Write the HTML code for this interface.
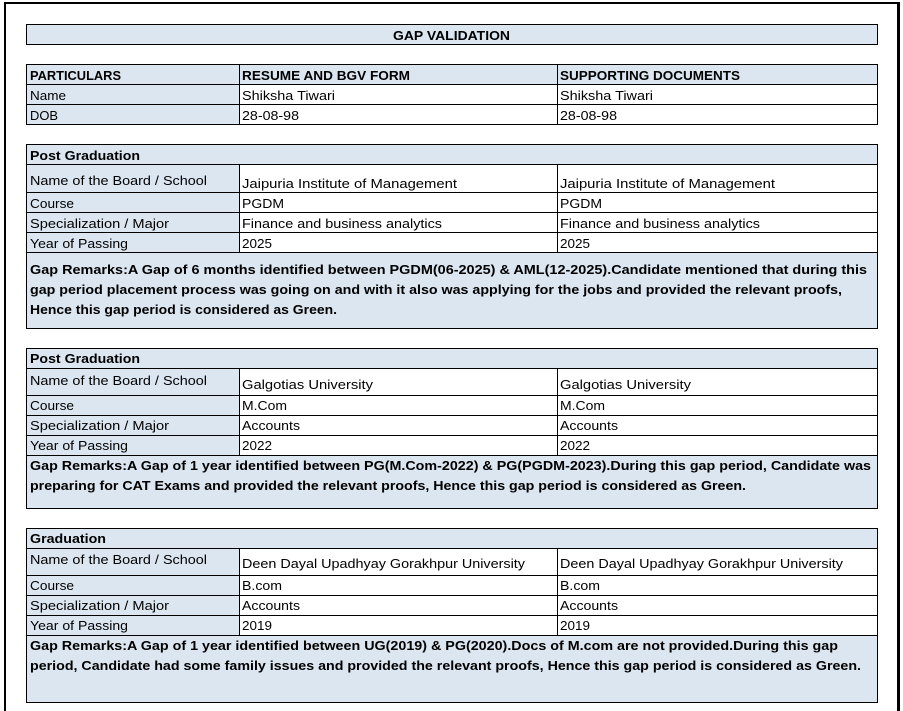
<!DOCTYPE html>
<html>
<head>
<meta charset="utf-8">
<style>
html,body{margin:0;padding:0;background:#fff;}
svg{display:block;}
text{font-family:"Liberation Sans",Arial,sans-serif;font-size:13px;fill:#000;}
.b{font-weight:bold;}
</style>
</head>
<body>
<svg width="903" height="711" viewBox="0 0 903 711" xmlns="http://www.w3.org/2000/svg">
<rect x="0" y="0" width="903" height="711" fill="#fff"/>
<!-- outer frame -->
<rect x="4" y="2" width="2" height="709" fill="#000"/>
<rect x="4" y="2" width="896" height="2" fill="#000"/>
<rect x="897" y="2" width="3" height="709" fill="#000"/>

<!-- Title -->
<rect x="26.5" y="24.5" width="851" height="20" fill="#dce6f1" stroke="#000" stroke-width="1"/>
<text class="b" x="393" y="40" textLength="117" lengthAdjust="spacingAndGlyphs">GAP VALIDATION</text>

<!-- Table 1 -->
<g>
<rect x="26" y="64" width="852" height="20" fill="#dce6f1"/>
<rect x="26" y="84" width="213" height="40" fill="#dce6f1"/>
<g stroke="#000" stroke-width="1">
<line x1="26" y1="64.5" x2="878" y2="64.5"/>
<line x1="26" y1="84.5" x2="878" y2="84.5"/>
<line x1="26" y1="104.5" x2="878" y2="104.5"/>
<line x1="26" y1="124.5" x2="878" y2="124.5"/>
<line x1="26.5" y1="64" x2="26.5" y2="125"/>
<line x1="239.5" y1="64" x2="239.5" y2="125"/>
<line x1="557.5" y1="64" x2="557.5" y2="125"/>
<line x1="877.5" y1="64" x2="877.5" y2="125"/>
</g>
<text class="b" x="30" y="80" textLength="91" lengthAdjust="spacingAndGlyphs">PARTICULARS</text>
<text class="b" x="242" y="80" textLength="168" lengthAdjust="spacingAndGlyphs">RESUME AND BGV FORM</text>
<text class="b" x="560" y="80" textLength="180" lengthAdjust="spacingAndGlyphs">SUPPORTING DOCUMENTS</text>
<text x="30" y="100" textLength="36" lengthAdjust="spacingAndGlyphs">Name</text>
<text x="242" y="100" textLength="93" lengthAdjust="spacingAndGlyphs">Shiksha Tiwari</text>
<text x="560" y="100" textLength="93" lengthAdjust="spacingAndGlyphs">Shiksha Tiwari</text>
<text x="30" y="120" textLength="28" lengthAdjust="spacingAndGlyphs">DOB</text>
<text x="242" y="120" textLength="57" lengthAdjust="spacingAndGlyphs">28-08-98</text>
<text x="560" y="120" textLength="57" lengthAdjust="spacingAndGlyphs">28-08-98</text>
</g>

<!-- Table 2 -->
<g>
<rect x="26" y="144" width="852" height="20" fill="#dce6f1"/>
<rect x="26" y="164" width="213" height="88" fill="#dce6f1"/>
<rect x="26" y="252" width="852" height="76" fill="#dce6f1"/>
<g stroke="#000" stroke-width="1">
<line x1="26" y1="144.5" x2="878" y2="144.5"/>
<line x1="26" y1="164.5" x2="878" y2="164.5"/>
<line x1="26" y1="192.5" x2="878" y2="192.5"/>
<line x1="26" y1="212.5" x2="878" y2="212.5"/>
<line x1="26" y1="232.5" x2="878" y2="232.5"/>
<line x1="26" y1="252.5" x2="878" y2="252.5"/>
<line x1="26" y1="328.5" x2="878" y2="328.5"/>
<line x1="26.5" y1="144" x2="26.5" y2="329"/>
<line x1="877.5" y1="144" x2="877.5" y2="329"/>
<line x1="239.5" y1="164" x2="239.5" y2="253"/>
<line x1="557.5" y1="164" x2="557.5" y2="253"/>
</g>
<text class="b" x="30" y="160" textLength="110" lengthAdjust="spacingAndGlyphs">Post Graduation</text>
<text x="30" y="185" textLength="177" lengthAdjust="spacingAndGlyphs">Name of the Board / School</text>
<text x="242" y="188" textLength="215" lengthAdjust="spacingAndGlyphs">Jaipuria Institute of Management</text>
<text x="560" y="188" textLength="215" lengthAdjust="spacingAndGlyphs">Jaipuria Institute of Management</text>
<text x="30" y="208" textLength="44" lengthAdjust="spacingAndGlyphs">Course</text>
<text x="242" y="208" textLength="42" lengthAdjust="spacingAndGlyphs">PGDM</text>
<text x="560" y="208" textLength="42" lengthAdjust="spacingAndGlyphs">PGDM</text>
<text x="30" y="228" textLength="139" lengthAdjust="spacingAndGlyphs">Specialization / Major</text>
<text x="242" y="228" textLength="200" lengthAdjust="spacingAndGlyphs">Finance and business analytics</text>
<text x="560" y="228" textLength="200" lengthAdjust="spacingAndGlyphs">Finance and business analytics</text>
<text x="30" y="248" textLength="98" lengthAdjust="spacingAndGlyphs">Year of Passing</text>
<text x="242" y="248" textLength="30" lengthAdjust="spacingAndGlyphs">2025</text>
<text x="560" y="248" textLength="30" lengthAdjust="spacingAndGlyphs">2025</text>
<text class="b" x="30" y="274" textLength="837" lengthAdjust="spacingAndGlyphs">Gap Remarks:A Gap of 6 months identified between PGDM(06-2025) &amp; AML(12-2025).Candidate mentioned that during this</text>
<text class="b" x="30" y="294" textLength="812" lengthAdjust="spacingAndGlyphs">gap period placement process was going on and with it also was applying for the jobs and provided the relevant proofs,</text>
<text class="b" x="30" y="314" textLength="307" lengthAdjust="spacingAndGlyphs">Hence this gap period is considered as Green.</text>
</g>

<!-- Table 3 -->
<g>
<rect x="26" y="348" width="852" height="20" fill="#dce6f1"/>
<rect x="26" y="368" width="213" height="87" fill="#dce6f1"/>
<rect x="26" y="455" width="852" height="53" fill="#dce6f1"/>
<g stroke="#000" stroke-width="1">
<line x1="26" y1="348.5" x2="878" y2="348.5"/>
<line x1="26" y1="368.5" x2="878" y2="368.5"/>
<line x1="26" y1="395.5" x2="878" y2="395.5"/>
<line x1="26" y1="415.5" x2="878" y2="415.5"/>
<line x1="26" y1="435.5" x2="878" y2="435.5"/>
<line x1="26" y1="455.5" x2="878" y2="455.5"/>
<line x1="26" y1="508.5" x2="878" y2="508.5"/>
<line x1="26.5" y1="348" x2="26.5" y2="509"/>
<line x1="877.5" y1="348" x2="877.5" y2="509"/>
<line x1="239.5" y1="368" x2="239.5" y2="456"/>
<line x1="557.5" y1="368" x2="557.5" y2="456"/>
</g>
<text class="b" x="30" y="363" textLength="110" lengthAdjust="spacingAndGlyphs">Post Graduation</text>
<text x="30" y="385" textLength="177" lengthAdjust="spacingAndGlyphs">Name of the Board / School</text>
<text x="242" y="389" textLength="131" lengthAdjust="spacingAndGlyphs">Galgotias University</text>
<text x="560" y="389" textLength="131" lengthAdjust="spacingAndGlyphs">Galgotias University</text>
<text x="30" y="410" textLength="44" lengthAdjust="spacingAndGlyphs">Course</text>
<text x="242" y="410" textLength="45" lengthAdjust="spacingAndGlyphs">M.Com</text>
<text x="560" y="410" textLength="45" lengthAdjust="spacingAndGlyphs">M.Com</text>
<text x="30" y="430" textLength="139" lengthAdjust="spacingAndGlyphs">Specialization / Major</text>
<text x="242" y="430" textLength="58" lengthAdjust="spacingAndGlyphs">Accounts</text>
<text x="560" y="430" textLength="58" lengthAdjust="spacingAndGlyphs">Accounts</text>
<text x="30" y="450" textLength="98" lengthAdjust="spacingAndGlyphs">Year of Passing</text>
<text x="242" y="450" textLength="30" lengthAdjust="spacingAndGlyphs">2022</text>
<text x="560" y="450" textLength="30" lengthAdjust="spacingAndGlyphs">2022</text>
<text class="b" x="30" y="470" textLength="841" lengthAdjust="spacingAndGlyphs">Gap Remarks:A Gap of 1 year identified between PG(M.Com-2022) &amp; PG(PGDM-2023).During this gap period, Candidate was</text>
<text class="b" x="30" y="490" textLength="716" lengthAdjust="spacingAndGlyphs">preparing for CAT Exams and provided the relevant proofs, Hence this gap period is considered as Green.</text>
</g>

<!-- Table 4 -->
<g>
<rect x="26" y="528" width="852" height="20" fill="#dce6f1"/>
<rect x="26" y="548" width="213" height="87" fill="#dce6f1"/>
<rect x="26" y="635" width="852" height="67" fill="#dce6f1"/>
<g stroke="#000" stroke-width="1">
<line x1="26" y1="528.5" x2="878" y2="528.5"/>
<line x1="26" y1="548.5" x2="878" y2="548.5"/>
<line x1="26" y1="575.5" x2="878" y2="575.5"/>
<line x1="26" y1="595.5" x2="878" y2="595.5"/>
<line x1="26" y1="615.5" x2="878" y2="615.5"/>
<line x1="26" y1="635.5" x2="878" y2="635.5"/>
<line x1="26" y1="702.5" x2="878" y2="702.5"/>
<line x1="26.5" y1="528" x2="26.5" y2="703"/>
<line x1="877.5" y1="528" x2="877.5" y2="703"/>
<line x1="239.5" y1="548" x2="239.5" y2="636"/>
<line x1="557.5" y1="548" x2="557.5" y2="636"/>
</g>
<text class="b" x="30" y="543" textLength="76" lengthAdjust="spacingAndGlyphs">Graduation</text>
<text x="30" y="564" textLength="177" lengthAdjust="spacingAndGlyphs">Name of the Board / School</text>
<text x="242" y="568" textLength="283" lengthAdjust="spacingAndGlyphs">Deen Dayal Upadhyay Gorakhpur University</text>
<text x="560" y="568" textLength="283" lengthAdjust="spacingAndGlyphs">Deen Dayal Upadhyay Gorakhpur University</text>
<text x="30" y="590" textLength="44" lengthAdjust="spacingAndGlyphs">Course</text>
<text x="242" y="590" textLength="40" lengthAdjust="spacingAndGlyphs">B.com</text>
<text x="560" y="590" textLength="40" lengthAdjust="spacingAndGlyphs">B.com</text>
<text x="30" y="610" textLength="139" lengthAdjust="spacingAndGlyphs">Specialization / Major</text>
<text x="242" y="610" textLength="58" lengthAdjust="spacingAndGlyphs">Accounts</text>
<text x="560" y="610" textLength="58" lengthAdjust="spacingAndGlyphs">Accounts</text>
<text x="30" y="630" textLength="98" lengthAdjust="spacingAndGlyphs">Year of Passing</text>
<text x="242" y="630" textLength="30" lengthAdjust="spacingAndGlyphs">2019</text>
<text x="560" y="630" textLength="30" lengthAdjust="spacingAndGlyphs">2019</text>
<text class="b" x="30" y="650" textLength="808" lengthAdjust="spacingAndGlyphs">Gap Remarks:A Gap of 1 year identified between UG(2019) &amp; PG(2020).Docs of M.com are not provided.During this gap</text>
<text class="b" x="30" y="670" textLength="831" lengthAdjust="spacingAndGlyphs">period, Candidate had some family issues and provided the relevant proofs, Hence this gap period is considered as Green.</text>
</g>
</svg>
</body>
</html>
